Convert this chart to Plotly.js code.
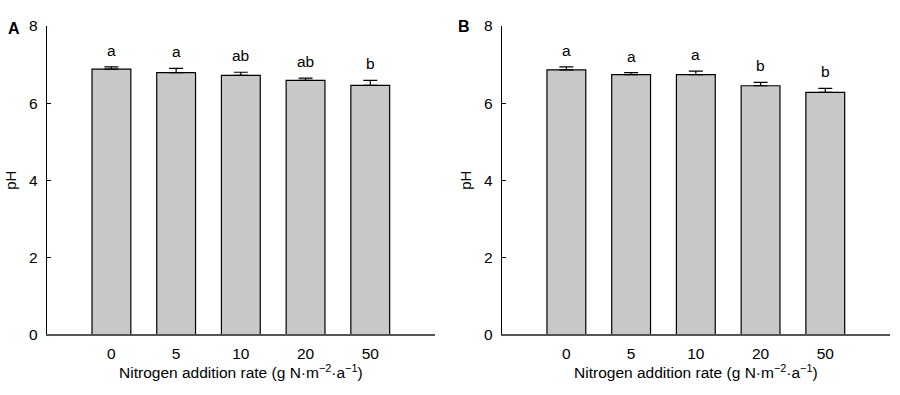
<!DOCTYPE html>
<html>
<head>
<meta charset="utf-8">
<script src="https://cdn.plot.ly/plotly-3.0.1.min.js"></script>
<style>html,body{margin:0;padding:0;background:#fff;}#chart{width:900px;height:395px;}</style>
</head>
<body>
<div id="chart"></div>
<script>
// Data
const categories = ['0', '5', '10', '20', '50'];
const phA = [6.88, 6.79, 6.72, 6.59, 6.46];
const seA = [0.06, 0.11, 0.08, 0.06, 0.13];
const lettersA = ['a', 'a', 'ab', 'ab', 'b'];
const phB = [6.86, 6.74, 6.74, 6.45, 6.28];
const seB = [0.08, 0.05, 0.09, 0.09, 0.10];
const lettersB = ['a', 'a', 'a', 'b', 'b'];
const xTitle = 'Nitrogen addition rate (g N·m<sup>−2</sup>·a<sup>−1</sup>)';
const yTitle = 'pH';

const FONT = 'Liberation Sans, Arial, sans-serif';
const idx = categories.map((c, i) => i);

function barTrace(vals, se, xa, ya) {
  return {
    type: 'bar', x: idx, y: vals, xaxis: xa, yaxis: ya, width: 0.6,
    marker: {color: '#c8c8c8', line: {color: '#000', width: 1.2}},
    error_y: {type: 'data', array: se, arrayminus: se.map(() => 0), symmetric: false,
              color: '#000', thickness: 1.2, width: 7},
    hoverinfo: 'skip', showlegend: false
  };
}

const traces = [barTrace(phA, seA, 'x', 'y'), barTrace(phB, seB, 'x2', 'y2')];

const annotations = [];
function addLetters(vals, se, letters, xref, yref) {
  letters.forEach((t, i) => {
    annotations.push({x: i, y: vals[i] + se[i], xref: xref, yref: yref, text: t,
      showarrow: false, yanchor: 'bottom', yshift: 6, font: {family: FONT, size: 15.5, color: '#000'}});
  });
}
addLetters(phA, seA, lettersA, 'x', 'y');
addLetters(phB, seB, lettersB, 'x2', 'y2');
annotations.push({x: 0.0155, y: 0.929, xref: 'paper', yref: 'paper', text: '<b>A</b>', showarrow: false,
  xanchor: 'center', yanchor: 'middle', font: {family: FONT, size: 16, color: '#000'}});
annotations.push({x: 0.516, y: 0.934, xref: 'paper', yref: 'paper', text: '<b>B</b>', showarrow: false,
  xanchor: 'center', yanchor: 'middle', font: {family: FONT, size: 16, color: '#000'}});

const yDom = [0.1532, 0.9342];
function xAxis(dom, anchor) {
  return {domain: dom, anchor: anchor, range: [-1, 5], tickmode: 'array', tickvals: idx, ticktext: categories,
    ticks: '', showline: true, linecolor: '#555', linewidth: 1.5, showgrid: false, zeroline: false,
    ticklabelstandoff: 4,
    tickfont: {family: FONT, size: 15.5, color: '#000'},
    title: {text: xTitle, font: {family: FONT, size: 15.5, color: '#000'}, standoff: 4},
    automargin: false, fixedrange: true};
}
function yAxis(anchor) {
  return {domain: yDom, anchor: anchor, range: [0, 8], tickvals: [0, 2, 4, 6, 8], ticks: 'inside', ticklen: 4,
    tickcolor: '#000', tickwidth: 1, showline: true, linecolor: '#000', linewidth: 1, showgrid: false,
    zeroline: false, ticklabelstandoff: 5, tickfont: {family: FONT, size: 15.5, color: '#000'},
    title: {text: yTitle, font: {family: FONT, size: 15, color: '#000'}, standoff: 8},
    automargin: false, fixedrange: true};
}
function endTickAxis(over, dom, anchor) {
  return {domain: dom, anchor: anchor, overlaying: over, range: [-1, 5], tickmode: 'array', tickvals: [5],
    ticks: 'inside', ticklen: 5, tickwidth: 1.5, tickcolor: '#555', showticklabels: false, showline: false,
    showgrid: false, zeroline: false, fixedrange: true};
}

const layout = {
  width: 900, height: 395,
  margin: {l: 0, r: 0, t: 0, b: 0},
  paper_bgcolor: '#fff', plot_bgcolor: 'rgba(0,0,0,0)',
  font: {family: FONT, color: '#000'},
  xaxis: xAxis([0.0519, 0.4833], 'y'),
  yaxis: yAxis('x'),
  xaxis2: xAxis([0.5574, 0.9889], 'y2'),
  yaxis2: yAxis('x2'),
  xaxis3: endTickAxis('x', [0.0519, 0.4833], 'y'),
  xaxis4: endTickAxis('x2', [0.5574, 0.9889], 'y2'),
  annotations: annotations,
  bargap: 0.4
};

Plotly.newPlot('chart', traces, layout, {displayModeBar: false, staticPlot: true});
</script>
</body>
</html>
